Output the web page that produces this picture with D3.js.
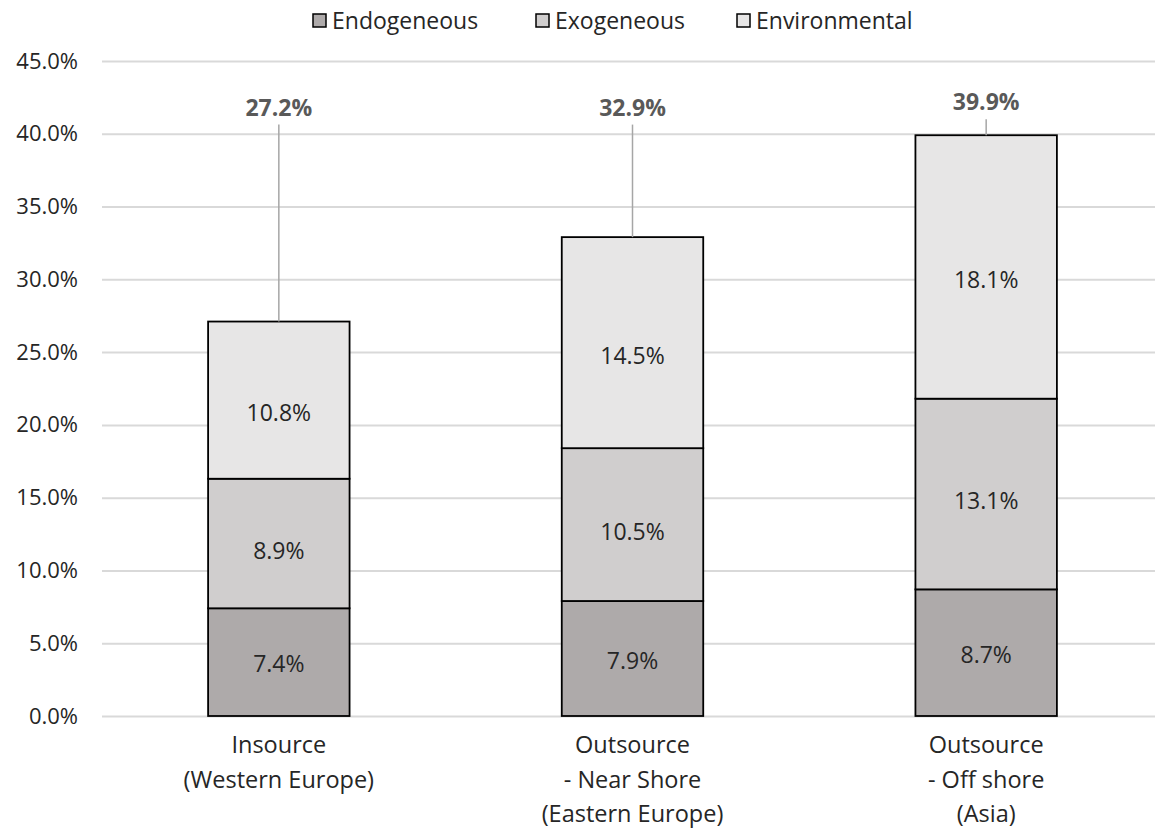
<!DOCTYPE html>
<html><head><meta charset="utf-8">
<script src="https://cdn.jsdelivr.net/npm/d3@7"></script>
<style>body{margin:0;background:#fff;} svg{display:block;font-family:"Open Sans",sans-serif;}</style>
</head><body><svg id="c" width="1155" height="829"></svg>
<script>
const categories = [["Insource","(Western Europe)"],["Outsource","- Near Shore","(Eastern Europe)"],["Outsource","- Off shore","(Asia)"]];
const seriesNames = ["Endogeneous","Exogeneous","Environmental"];
const endogeneous = [7.4, 7.9, 8.7];
const exogeneous = [8.9, 10.5, 13.1];
const environmental = [10.8, 14.5, 18.1];
const totals = [27.2, 32.9, 39.9];
const yTicks = [0,5,10,15,20,25,30,35,40,45];
const colors = ["#aeaaaa","#d0cece","#e7e6e6"];

(function(){
const svg = d3.select("#c");
const W = 1155, H = 829;
const mLeft = 102, mRight = 1163, mTop = 61, mBottom = 716;
const labelShift = [2, 7, 13]; // per-series vertical nudge of in-bar labels (px)
const keys = categories.map((c,i)=>i);
const x = d3.scaleBand().domain(keys).range([mLeft,mRight]).paddingInner(0.6).paddingOuter(0.3);
const y = d3.scaleLinear().domain([0,45]).range([mBottom,mTop]);

const yAxis = d3.axisLeft(y).tickValues(yTicks).tickFormat(d=>d3.format(".1f")(d)+"%").tickSize(-(W-mLeft)).tickPadding(24);
const ga = svg.append("g").attr("transform",`translate(${mLeft},0)`).call(yAxis);
ga.select(".domain").remove();
ga.selectAll(".tick line").attr("stroke","#d9d9d9").attr("stroke-width",2);
ga.selectAll(".tick text").attr("fill","#262626").style("font-size","22px").attr("font-family","Open Sans");

const rows = keys.map(i=>({k:i, Endogeneous:endogeneous[i], Exogeneous:exogeneous[i], Environmental:environmental[i]}));
const stack = d3.stack().keys(seriesNames)(rows);
const gs = svg.append("g");
stack.forEach((s,si)=>{
  gs.selectAll(null).data(s).enter().append("rect")
    .attr("x",d=>x(d.data.k)).attr("width",x.bandwidth())
    .attr("y",d=>y(d[1])).attr("height",d=>y(d[0])-y(d[1]))
    .attr("fill",colors[si]).attr("stroke","#000").attr("stroke-width",1.8);
  gs.selectAll(null).data(s).enter().append("text")
    .attr("x",d=>x(d.data.k)+x.bandwidth()/2).attr("y",d=>(y(d[0])+y(d[1]))/2 + labelShift[si])
    .attr("dy","0.35em").attr("text-anchor","middle").attr("fill","#262626").style("font-size","23px")
    .text(d=>d3.format(".1f")(d[1]-d[0])+"%");
});

keys.forEach(i=>{
  const topY = y(d3.sum([endogeneous[i],exogeneous[i],environmental[i]]));
  const ly = Math.min(y(41.8), topY-33);
  const cx = x(i)+x.bandwidth()/2;
  svg.append("line").attr("x1",cx).attr("x2",cx).attr("y1",ly+17).attr("y2",topY).attr("stroke","#a6a6a6").attr("stroke-width",1.5);
  svg.append("text").attr("x",cx).attr("y",ly).attr("dy","0.35em").attr("text-anchor","middle")
    .attr("fill","#595959").style("font-size","23px").style("font-weight","bold").text(d3.format(".1f")(totals[i])+"%");
});

keys.forEach(i=>{
  const cx = x(i)+x.bandwidth()/2;
  const t = svg.append("text").attr("text-anchor","middle").attr("fill","#262626").style("font-size","23.5px");
  categories[i].forEach((line,li)=>{
    t.append("tspan").attr("x",cx).attr("y",mBottom+37+li*34.5).text(line);
  });
});

const legX = [313, 536, 737];
const lg = svg.append("g");
seriesNames.forEach((n,i)=>{
  lg.append("rect").attr("x",legX[i]).attr("y",14).attr("width",13).attr("height",13)
    .attr("fill",colors[i]).attr("stroke","#000").attr("stroke-width",1.5);
  lg.append("text").attr("x",legX[i]+19).attr("y",21).attr("dy","0.35em").attr("fill","#262626").style("font-size","23px").text(n);
});
})();
</script></body></html>
